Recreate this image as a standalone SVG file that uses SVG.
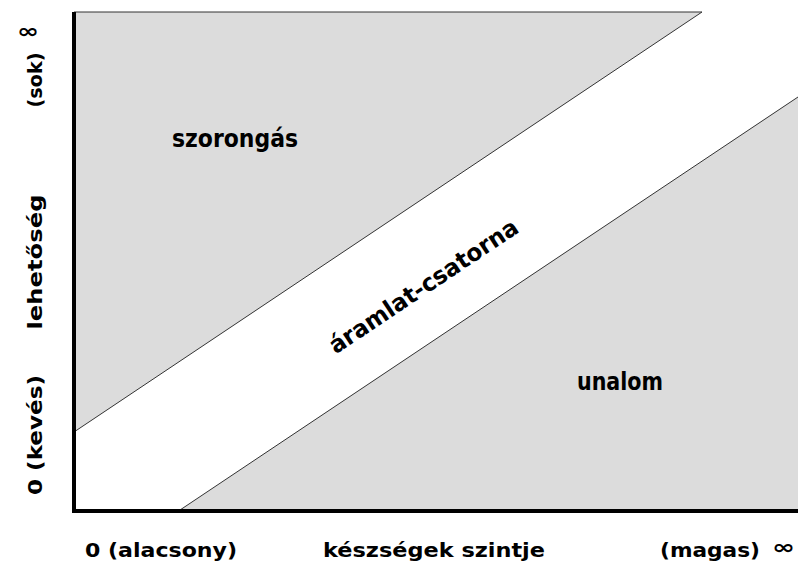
<svg xmlns="http://www.w3.org/2000/svg" width="798" height="567" viewBox="0 0 798 567">
<style>
.area{fill:#dcdcdc;stroke:none}
.edge{stroke:#333;stroke-width:1;fill:none}
.axis{stroke:#000;stroke-width:4;fill:none}
.lbl{font-family:"Comic Sans MS","DejaVu Sans",sans-serif;font-weight:bold;font-size:20px;fill:#000}
.big{font-size:24px}
</style>
<rect width="798" height="567" fill="#fff"/>
<g id="regions">
<polygon id="anxiety-area" class="area" points="74,12 702,12 74,432"/>
<polygon id="boredom-area" class="area" points="180,510 798,97 798,510"/>
</g>
<g id="connectors">
<line class="edge" x1="74" y1="12" x2="702" y2="12"/>
<line class="edge" x1="702" y1="12" x2="74" y2="432"/>
<line class="edge" x1="180" y1="510" x2="798" y2="97"/>
<polyline class="axis" points="74,12 74,511 798,511"/>
</g>
<g id="szorongas"><text class="lbl big" x="172" y="147" textLength="126" lengthAdjust="spacingAndGlyphs">szorongás</text></g>
<g id="unalom"><text class="lbl big" x="577" y="390" textLength="86" lengthAdjust="spacingAndGlyphs">unalom</text></g>
<g id="aramlat"><text class="lbl big" transform="translate(428,293) rotate(-33.7)" text-anchor="middle" textLength="222" lengthAdjust="spacingAndGlyphs">áramlat-csatorna</text></g>
<g id="x-labels">
<text class="lbl" x="85" y="557" textLength="152" lengthAdjust="spacingAndGlyphs">0 (alacsony)</text>
<text class="lbl" x="323" y="557" textLength="222" lengthAdjust="spacingAndGlyphs">készségek szintje</text>
<text class="lbl" x="660" y="557" textLength="100" lengthAdjust="spacingAndGlyphs">(magas)</text>
<text class="lbl" x="772" y="554" font-size="26" textLength="23" lengthAdjust="spacingAndGlyphs">∞</text>
</g>
<g id="y-labels">
<text class="lbl" transform="translate(42,435) rotate(-90)" text-anchor="middle" textLength="120" lengthAdjust="spacingAndGlyphs">0 (kevés)</text>
<text class="lbl" transform="translate(42,262) rotate(-90)" text-anchor="middle" textLength="135" lengthAdjust="spacingAndGlyphs">lehetőség</text>
<text class="lbl" transform="translate(42,80) rotate(-90)" text-anchor="middle" textLength="55" lengthAdjust="spacingAndGlyphs">(sok)</text>
<text class="lbl" x="17" y="38" font-size="27" textLength="22" lengthAdjust="spacingAndGlyphs">∞</text>
</g>
</svg>
